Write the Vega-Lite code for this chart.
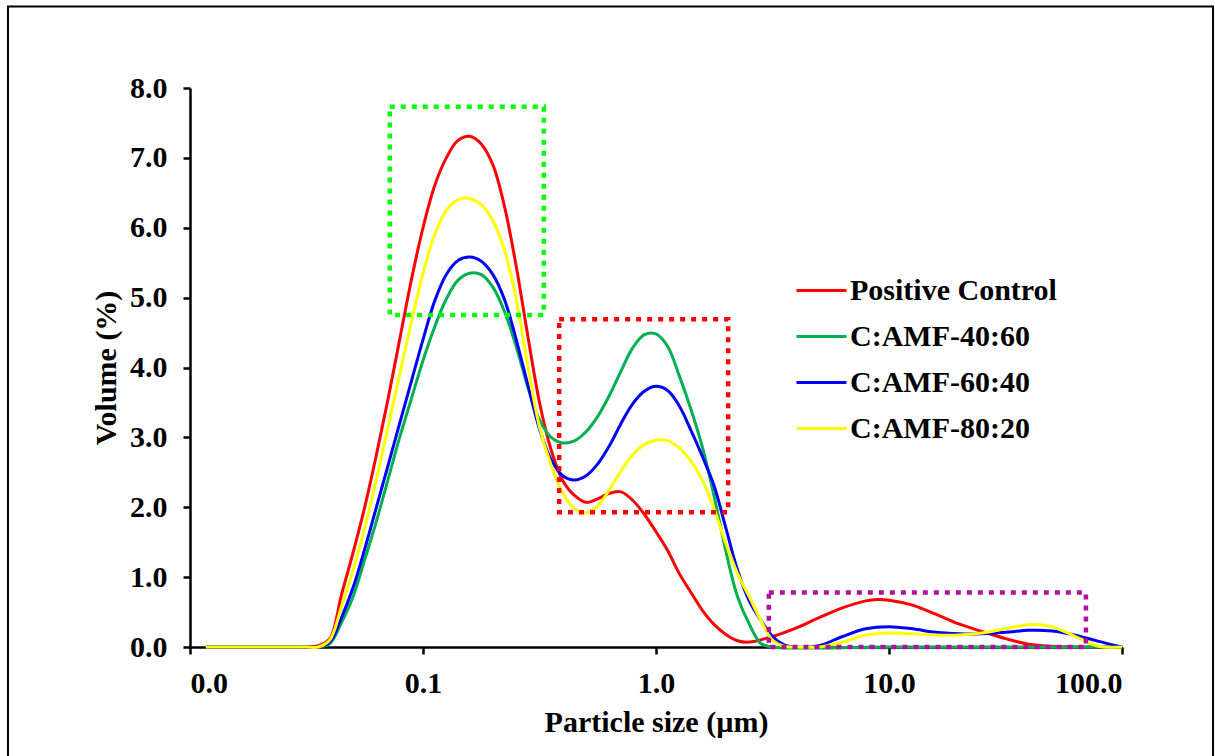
{
  "$schema": "https://vega.github.io/schema/vega-lite/v6.json",
  "width": 932,
  "height": 559,
  "autosize": {"type": "none"},
  "padding": {"left": 190, "top": 88, "right": 93, "bottom": 109},
  "background": "white",
  "config": {
    "view": {"stroke": null},
    "font": "Liberation Serif",
    "axis": {
      "grid": false,
      "domainColor": "black",
      "domainWidth": 2.5,
      "tickColor": "black",
      "tickWidth": 2.5,
      "tickSize": 7,
      "labelFont": "Liberation Serif",
      "labelFontSize": 30,
      "labelFontWeight": "bold",
      "labelColor": "black",
      "titleFont": "Liberation Serif",
      "titleFontSize": 30,
      "titleFontWeight": "bold",
      "titleColor": "black"
    }
  },
  "datasets": {
    "psd": [
      {"sample": "Positive Control", "size": 0.0117, "volume": 0},
      {"sample": "Positive Control", "size": 0.0251, "volume": 0},
      {"sample": "Positive Control", "size": 0.0316, "volume": 0},
      {"sample": "Positive Control", "size": 0.0355, "volume": 0.02},
      {"sample": "Positive Control", "size": 0.0398, "volume": 0.12},
      {"sample": "Positive Control", "size": 0.0447, "volume": 0.75},
      {"sample": "Positive Control", "size": 0.0501, "volume": 1.35},
      {"sample": "Positive Control", "size": 0.0562, "volume": 2.0},
      {"sample": "Positive Control", "size": 0.0631, "volume": 2.75},
      {"sample": "Positive Control", "size": 0.0708, "volume": 3.55},
      {"sample": "Positive Control", "size": 0.0794, "volume": 4.4},
      {"sample": "Positive Control", "size": 0.0891, "volume": 5.25},
      {"sample": "Positive Control", "size": 0.1, "volume": 6.0},
      {"sample": "Positive Control", "size": 0.1122, "volume": 6.6},
      {"sample": "Positive Control", "size": 0.1259, "volume": 7.0},
      {"sample": "Positive Control", "size": 0.1413, "volume": 7.25},
      {"sample": "Positive Control", "size": 0.1585, "volume": 7.31},
      {"sample": "Positive Control", "size": 0.1778, "volume": 7.2},
      {"sample": "Positive Control", "size": 0.1995, "volume": 6.9},
      {"sample": "Positive Control", "size": 0.2239, "volume": 6.3},
      {"sample": "Positive Control", "size": 0.2512, "volume": 5.45},
      {"sample": "Positive Control", "size": 0.2818, "volume": 4.45},
      {"sample": "Positive Control", "size": 0.3162, "volume": 3.5},
      {"sample": "Positive Control", "size": 0.3548, "volume": 2.82},
      {"sample": "Positive Control", "size": 0.3981, "volume": 2.38},
      {"sample": "Positive Control", "size": 0.4467, "volume": 2.17},
      {"sample": "Positive Control", "size": 0.5012, "volume": 2.07},
      {"sample": "Positive Control", "size": 0.5623, "volume": 2.12},
      {"sample": "Positive Control", "size": 0.631, "volume": 2.2},
      {"sample": "Positive Control", "size": 0.7079, "volume": 2.22},
      {"sample": "Positive Control", "size": 0.7943, "volume": 2.1},
      {"sample": "Positive Control", "size": 0.891, "volume": 1.9},
      {"sample": "Positive Control", "size": 1.0, "volume": 1.65},
      {"sample": "Positive Control", "size": 1.122, "volume": 1.38},
      {"sample": "Positive Control", "size": 1.259, "volume": 1.05},
      {"sample": "Positive Control", "size": 1.413, "volume": 0.78},
      {"sample": "Positive Control", "size": 1.585, "volume": 0.52},
      {"sample": "Positive Control", "size": 1.778, "volume": 0.32},
      {"sample": "Positive Control", "size": 1.995, "volume": 0.18},
      {"sample": "Positive Control", "size": 2.239, "volume": 0.09},
      {"sample": "Positive Control", "size": 2.512, "volume": 0.07},
      {"sample": "Positive Control", "size": 3.162, "volume": 0.15},
      {"sample": "Positive Control", "size": 3.981, "volume": 0.27},
      {"sample": "Positive Control", "size": 5.012, "volume": 0.42},
      {"sample": "Positive Control", "size": 6.31, "volume": 0.56},
      {"sample": "Positive Control", "size": 7.943, "volume": 0.66},
      {"sample": "Positive Control", "size": 8.9, "volume": 0.68},
      {"sample": "Positive Control", "size": 10.0, "volume": 0.67},
      {"sample": "Positive Control", "size": 12.59, "volume": 0.6},
      {"sample": "Positive Control", "size": 15.85, "volume": 0.47},
      {"sample": "Positive Control", "size": 19.95, "volume": 0.33},
      {"sample": "Positive Control", "size": 25.12, "volume": 0.22},
      {"sample": "Positive Control", "size": 31.62, "volume": 0.12},
      {"sample": "Positive Control", "size": 39.81, "volume": 0.04},
      {"sample": "Positive Control", "size": 50.12, "volume": 0.01},
      {"sample": "Positive Control", "size": 63.1, "volume": 0},
      {"sample": "Positive Control", "size": 100, "volume": 0},

      {"sample": "C:AMF-40:60", "size": 0.0117, "volume": 0},
      {"sample": "C:AMF-40:60", "size": 0.0251, "volume": 0},
      {"sample": "C:AMF-40:60", "size": 0.0316, "volume": 0},
      {"sample": "C:AMF-40:60", "size": 0.0355, "volume": 0},
      {"sample": "C:AMF-40:60", "size": 0.0398, "volume": 0.05},
      {"sample": "C:AMF-40:60", "size": 0.0447, "volume": 0.35},
      {"sample": "C:AMF-40:60", "size": 0.0501, "volume": 0.72},
      {"sample": "C:AMF-40:60", "size": 0.0562, "volume": 1.25},
      {"sample": "C:AMF-40:60", "size": 0.0631, "volume": 1.8},
      {"sample": "C:AMF-40:60", "size": 0.0708, "volume": 2.4},
      {"sample": "C:AMF-40:60", "size": 0.0794, "volume": 3.0},
      {"sample": "C:AMF-40:60", "size": 0.0891, "volume": 3.55},
      {"sample": "C:AMF-40:60", "size": 0.1, "volume": 4.1},
      {"sample": "C:AMF-40:60", "size": 0.1122, "volume": 4.58},
      {"sample": "C:AMF-40:60", "size": 0.1259, "volume": 4.98},
      {"sample": "C:AMF-40:60", "size": 0.1413, "volume": 5.25},
      {"sample": "C:AMF-40:60", "size": 0.1585, "volume": 5.35},
      {"sample": "C:AMF-40:60", "size": 0.1778, "volume": 5.33},
      {"sample": "C:AMF-40:60", "size": 0.1995, "volume": 5.15},
      {"sample": "C:AMF-40:60", "size": 0.2239, "volume": 4.8},
      {"sample": "C:AMF-40:60", "size": 0.2512, "volume": 4.3},
      {"sample": "C:AMF-40:60", "size": 0.2818, "volume": 3.72},
      {"sample": "C:AMF-40:60", "size": 0.3162, "volume": 3.25},
      {"sample": "C:AMF-40:60", "size": 0.3548, "volume": 3.0},
      {"sample": "C:AMF-40:60", "size": 0.3981, "volume": 2.92},
      {"sample": "C:AMF-40:60", "size": 0.4467, "volume": 2.95},
      {"sample": "C:AMF-40:60", "size": 0.5012, "volume": 3.08},
      {"sample": "C:AMF-40:60", "size": 0.5623, "volume": 3.3},
      {"sample": "C:AMF-40:60", "size": 0.631, "volume": 3.6},
      {"sample": "C:AMF-40:60", "size": 0.7079, "volume": 3.95},
      {"sample": "C:AMF-40:60", "size": 0.7943, "volume": 4.28},
      {"sample": "C:AMF-40:60", "size": 0.891, "volume": 4.47},
      {"sample": "C:AMF-40:60", "size": 1.0, "volume": 4.48},
      {"sample": "C:AMF-40:60", "size": 1.122, "volume": 4.3},
      {"sample": "C:AMF-40:60", "size": 1.259, "volume": 3.88},
      {"sample": "C:AMF-40:60", "size": 1.413, "volume": 3.4},
      {"sample": "C:AMF-40:60", "size": 1.585, "volume": 2.85},
      {"sample": "C:AMF-40:60", "size": 1.778, "volume": 2.15},
      {"sample": "C:AMF-40:60", "size": 1.995, "volume": 1.37},
      {"sample": "C:AMF-40:60", "size": 2.239, "volume": 0.72},
      {"sample": "C:AMF-40:60", "size": 2.512, "volume": 0.33},
      {"sample": "C:AMF-40:60", "size": 2.818, "volume": 0.05},
      {"sample": "C:AMF-40:60", "size": 3.162, "volume": 0},
      {"sample": "C:AMF-40:60", "size": 10, "volume": 0},
      {"sample": "C:AMF-40:60", "size": 100, "volume": 0},

      {"sample": "C:AMF-60:40", "size": 0.0117, "volume": 0},
      {"sample": "C:AMF-60:40", "size": 0.0251, "volume": 0},
      {"sample": "C:AMF-60:40", "size": 0.0316, "volume": 0},
      {"sample": "C:AMF-60:40", "size": 0.0355, "volume": 0},
      {"sample": "C:AMF-60:40", "size": 0.0398, "volume": 0.07},
      {"sample": "C:AMF-60:40", "size": 0.0447, "volume": 0.42},
      {"sample": "C:AMF-60:40", "size": 0.0501, "volume": 0.85},
      {"sample": "C:AMF-60:40", "size": 0.0562, "volume": 1.4},
      {"sample": "C:AMF-60:40", "size": 0.0631, "volume": 2.0},
      {"sample": "C:AMF-60:40", "size": 0.0708, "volume": 2.6},
      {"sample": "C:AMF-60:40", "size": 0.0794, "volume": 3.2},
      {"sample": "C:AMF-60:40", "size": 0.0891, "volume": 3.8},
      {"sample": "C:AMF-60:40", "size": 0.1, "volume": 4.4},
      {"sample": "C:AMF-60:40", "size": 0.1122, "volume": 4.95},
      {"sample": "C:AMF-60:40", "size": 0.1259, "volume": 5.33},
      {"sample": "C:AMF-60:40", "size": 0.1413, "volume": 5.53},
      {"sample": "C:AMF-60:40", "size": 0.1585, "volume": 5.58},
      {"sample": "C:AMF-60:40", "size": 0.1778, "volume": 5.52},
      {"sample": "C:AMF-60:40", "size": 0.1995, "volume": 5.33},
      {"sample": "C:AMF-60:40", "size": 0.2239, "volume": 4.97},
      {"sample": "C:AMF-60:40", "size": 0.2512, "volume": 4.4},
      {"sample": "C:AMF-60:40", "size": 0.2818, "volume": 3.75},
      {"sample": "C:AMF-60:40", "size": 0.3162, "volume": 3.12},
      {"sample": "C:AMF-60:40", "size": 0.3548, "volume": 2.68},
      {"sample": "C:AMF-60:40", "size": 0.3981, "volume": 2.45},
      {"sample": "C:AMF-60:40", "size": 0.4467, "volume": 2.39},
      {"sample": "C:AMF-60:40", "size": 0.5012, "volume": 2.45},
      {"sample": "C:AMF-60:40", "size": 0.5623, "volume": 2.62},
      {"sample": "C:AMF-60:40", "size": 0.631, "volume": 2.88},
      {"sample": "C:AMF-60:40", "size": 0.7079, "volume": 3.2},
      {"sample": "C:AMF-60:40", "size": 0.7943, "volume": 3.48},
      {"sample": "C:AMF-60:40", "size": 0.891, "volume": 3.66},
      {"sample": "C:AMF-60:40", "size": 1.0, "volume": 3.73},
      {"sample": "C:AMF-60:40", "size": 1.122, "volume": 3.67},
      {"sample": "C:AMF-60:40", "size": 1.259, "volume": 3.45},
      {"sample": "C:AMF-60:40", "size": 1.413, "volume": 3.1},
      {"sample": "C:AMF-60:40", "size": 1.585, "volume": 2.72},
      {"sample": "C:AMF-60:40", "size": 1.778, "volume": 2.3},
      {"sample": "C:AMF-60:40", "size": 1.995, "volume": 1.7},
      {"sample": "C:AMF-60:40", "size": 2.239, "volume": 1.1},
      {"sample": "C:AMF-60:40", "size": 2.512, "volume": 0.66},
      {"sample": "C:AMF-60:40", "size": 2.818, "volume": 0.38},
      {"sample": "C:AMF-60:40", "size": 3.162, "volume": 0.15},
      {"sample": "C:AMF-60:40", "size": 3.548, "volume": 0.03},
      {"sample": "C:AMF-60:40", "size": 3.981, "volume": 0},
      {"sample": "C:AMF-60:40", "size": 5.012, "volume": 0.02},
      {"sample": "C:AMF-60:40", "size": 6.31, "volume": 0.15},
      {"sample": "C:AMF-60:40", "size": 7.943, "volume": 0.26},
      {"sample": "C:AMF-60:40", "size": 10.0, "volume": 0.29},
      {"sample": "C:AMF-60:40", "size": 12.59, "volume": 0.26},
      {"sample": "C:AMF-60:40", "size": 15.85, "volume": 0.21},
      {"sample": "C:AMF-60:40", "size": 19.95, "volume": 0.19},
      {"sample": "C:AMF-60:40", "size": 25.12, "volume": 0.19},
      {"sample": "C:AMF-60:40", "size": 31.62, "volume": 0.21},
      {"sample": "C:AMF-60:40", "size": 39.81, "volume": 0.24},
      {"sample": "C:AMF-60:40", "size": 50.12, "volume": 0.23},
      {"sample": "C:AMF-60:40", "size": 63.1, "volume": 0.17},
      {"sample": "C:AMF-60:40", "size": 79.43, "volume": 0.08},
      {"sample": "C:AMF-60:40", "size": 100, "volume": 0},

      {"sample": "C:AMF-80:20", "size": 0.0117, "volume": 0},
      {"sample": "C:AMF-80:20", "size": 0.0251, "volume": 0},
      {"sample": "C:AMF-80:20", "size": 0.0316, "volume": 0},
      {"sample": "C:AMF-80:20", "size": 0.0355, "volume": 0},
      {"sample": "C:AMF-80:20", "size": 0.0398, "volume": 0.1},
      {"sample": "C:AMF-80:20", "size": 0.0447, "volume": 0.58},
      {"sample": "C:AMF-80:20", "size": 0.0501, "volume": 1.1},
      {"sample": "C:AMF-80:20", "size": 0.0562, "volume": 1.7},
      {"sample": "C:AMF-80:20", "size": 0.0631, "volume": 2.4},
      {"sample": "C:AMF-80:20", "size": 0.0708, "volume": 3.15},
      {"sample": "C:AMF-80:20", "size": 0.0794, "volume": 3.9},
      {"sample": "C:AMF-80:20", "size": 0.0891, "volume": 4.65},
      {"sample": "C:AMF-80:20", "size": 0.1, "volume": 5.35},
      {"sample": "C:AMF-80:20", "size": 0.1122, "volume": 5.9},
      {"sample": "C:AMF-80:20", "size": 0.1259, "volume": 6.25},
      {"sample": "C:AMF-80:20", "size": 0.1413, "volume": 6.4},
      {"sample": "C:AMF-80:20", "size": 0.1585, "volume": 6.42},
      {"sample": "C:AMF-80:20", "size": 0.1778, "volume": 6.33},
      {"sample": "C:AMF-80:20", "size": 0.1995, "volume": 6.1},
      {"sample": "C:AMF-80:20", "size": 0.2239, "volume": 5.68},
      {"sample": "C:AMF-80:20", "size": 0.2512, "volume": 4.98},
      {"sample": "C:AMF-80:20", "size": 0.2818, "volume": 4.02},
      {"sample": "C:AMF-80:20", "size": 0.3162, "volume": 3.15},
      {"sample": "C:AMF-80:20", "size": 0.3548, "volume": 2.6},
      {"sample": "C:AMF-80:20", "size": 0.3981, "volume": 2.2},
      {"sample": "C:AMF-80:20", "size": 0.4467, "volume": 1.98},
      {"sample": "C:AMF-80:20", "size": 0.5012, "volume": 1.92},
      {"sample": "C:AMF-80:20", "size": 0.5623, "volume": 2.02},
      {"sample": "C:AMF-80:20", "size": 0.631, "volume": 2.25},
      {"sample": "C:AMF-80:20", "size": 0.7079, "volume": 2.52},
      {"sample": "C:AMF-80:20", "size": 0.7943, "volume": 2.75},
      {"sample": "C:AMF-80:20", "size": 0.891, "volume": 2.9},
      {"sample": "C:AMF-80:20", "size": 1.0, "volume": 2.96},
      {"sample": "C:AMF-80:20", "size": 1.122, "volume": 2.95},
      {"sample": "C:AMF-80:20", "size": 1.259, "volume": 2.85},
      {"sample": "C:AMF-80:20", "size": 1.413, "volume": 2.66},
      {"sample": "C:AMF-80:20", "size": 1.585, "volume": 2.38},
      {"sample": "C:AMF-80:20", "size": 1.778, "volume": 1.97},
      {"sample": "C:AMF-80:20", "size": 1.995, "volume": 1.48},
      {"sample": "C:AMF-80:20", "size": 2.239, "volume": 1.05},
      {"sample": "C:AMF-80:20", "size": 2.512, "volume": 0.72},
      {"sample": "C:AMF-80:20", "size": 2.818, "volume": 0.38},
      {"sample": "C:AMF-80:20", "size": 3.162, "volume": 0.1},
      {"sample": "C:AMF-80:20", "size": 3.548, "volume": 0.01},
      {"sample": "C:AMF-80:20", "size": 3.981, "volume": 0},
      {"sample": "C:AMF-80:20", "size": 5.012, "volume": 0},
      {"sample": "C:AMF-80:20", "size": 6.31, "volume": 0.07},
      {"sample": "C:AMF-80:20", "size": 7.943, "volume": 0.17},
      {"sample": "C:AMF-80:20", "size": 10.0, "volume": 0.2},
      {"sample": "C:AMF-80:20", "size": 12.59, "volume": 0.19},
      {"sample": "C:AMF-80:20", "size": 15.85, "volume": 0.17},
      {"sample": "C:AMF-80:20", "size": 19.95, "volume": 0.17},
      {"sample": "C:AMF-80:20", "size": 25.12, "volume": 0.2},
      {"sample": "C:AMF-80:20", "size": 31.62, "volume": 0.26},
      {"sample": "C:AMF-80:20", "size": 39.81, "volume": 0.32},
      {"sample": "C:AMF-80:20", "size": 50.12, "volume": 0.29},
      {"sample": "C:AMF-80:20", "size": 63.1, "volume": 0.15},
      {"sample": "C:AMF-80:20", "size": 79.43, "volume": 0.01},
      {"sample": "C:AMF-80:20", "size": 100, "volume": 0}
    ],
    "regions": [
      {"region": "fine", "x1": 0.072, "x2": 0.33, "y1": 4.75, "y2": 7.73},
      {"region": "medium", "x1": 0.384, "x2": 2.04, "y1": 1.93, "y2": 4.69},
      {"region": "coarse", "x1": 3.05, "x2": 70, "y1": 0.0, "y2": 0.78}
    ]
  },
  "layer": [
    {
      "data": {"values": [{}]},
      "mark": {"type": "rect", "filled": false, "stroke": "black", "strokeWidth": 2},
      "encoding": {
        "x": {"datum": 0.001655, "type": "quantitative"},
        "x2": {"datum": 245.9},
        "y": {"datum": 9.165, "type": "quantitative"},
        "y2": {"datum": -1.8}
      }
    },
    {
      "data": {"name": "psd"},
      "mark": {"type": "line", "strokeWidth": 3, "interpolate": "catmull-rom"},
      "encoding": {
        "x": {
          "field": "size",
          "type": "quantitative",
          "scale": {"type": "log", "domain": [0.01, 100]},
          "axis": {
            "values": [0.01, 0.1, 1, 10, 100],
            "format": ".1f",
            "title": "Particle size (µm)",
            "labelPadding": 14,
            "titlePadding": 9
          }
        },
        "y": {
          "field": "volume",
          "type": "quantitative",
          "scale": {"domain": [0, 8], "nice": false, "zero": true},
          "axis": {
            "values": [0, 1, 2, 3, 4, 5, 6, 7, 8],
            "format": ".1f",
            "title": "Volume (%)",
            "labelPadding": 16,
            "titlePadding": 8
          }
        },
        "color": {
          "field": "sample",
          "type": "nominal",
          "scale": {
            "domain": ["Positive Control", "C:AMF-40:60", "C:AMF-60:40", "C:AMF-80:20"],
            "range": ["#FF0000", "#00B050", "#0000FF", "#FFFF00"]
          },
          "sort": null,
          "legend": {
            "title": null,
            "orient": "none",
            "legendX": 605,
            "legendY": 176,
            "symbolType": "stroke",
            "symbolSize": 2500,
            "symbolStrokeWidth": 3,
            "labelFont": "Liberation Serif",
            "labelFontSize": 30,
            "labelFontWeight": "bold",
            "labelColor": "black",
            "labelLimit": 400,
            "labelOffset": 2,
            "rowPadding": 4
          }
        }
      }
    },
    {
      "data": {"name": "regions"},
      "mark": {"type": "rect", "filled": false, "strokeWidth": 4.5, "strokeDash": [5, 6]},
      "encoding": {
        "x": {"field": "x1", "type": "quantitative"},
        "x2": {"field": "x2"},
        "y": {"field": "y1", "type": "quantitative"},
        "y2": {"field": "y2"},
        "stroke": {
          "field": "region",
          "type": "nominal",
          "scale": {"domain": ["fine", "medium", "coarse"], "range": ["#00FF00", "#FF0000", "#B0109F"]},
          "legend": null
        }
      }
    }
  ]
}
